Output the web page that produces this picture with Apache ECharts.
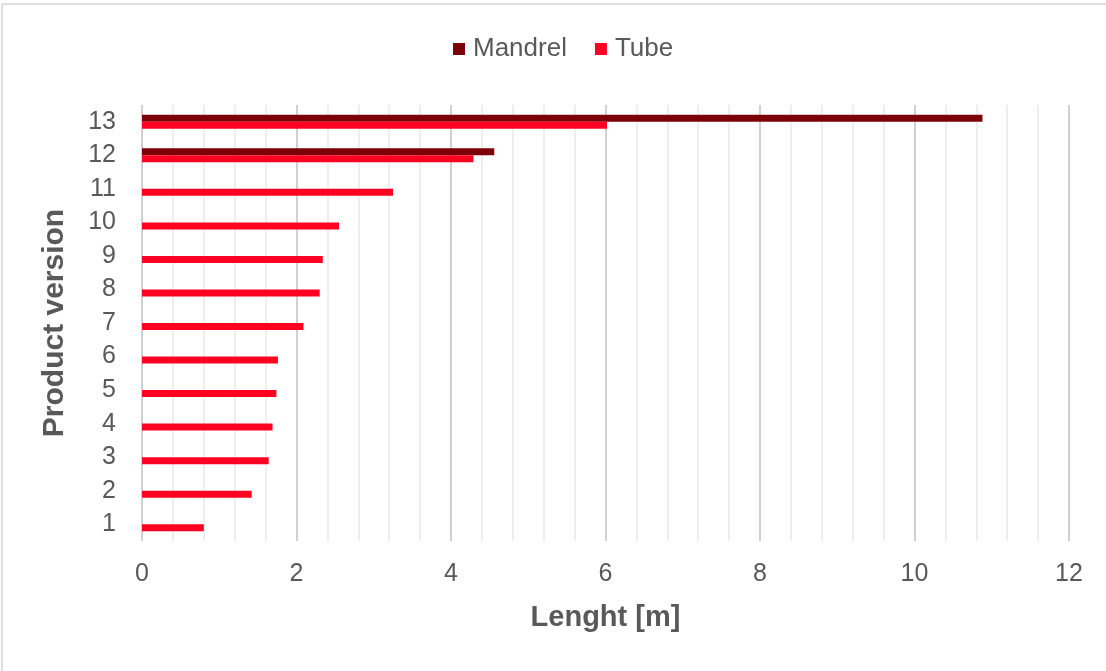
<!DOCTYPE html>
<html>
<head>
<meta charset="utf-8">
<script src="https://cdn.jsdelivr.net/npm/echarts@6/dist/echarts.min.js"></script>
<style>
  html, body { margin: 0; padding: 0; background: #ffffff; }
  #chart { width: 1106px; height: 671px; }
</style>
</head>
<body>
<div id="chart"></div>
<script>
// Product versions along the vertical axis (bottom to top)
const versions = ['1', '2', '3', '4', '5', '6', '7', '8', '9', '10', '11', '12', '13'];
// Mandrel length per version [m]; only versions 12 and 13 have a mandrel
const mandrel = [null, null, null, null, null, null, null, null, null, null, null, 4.56, 10.88];
// Tube length per version [m]
const tube = [0.80, 1.42, 1.64, 1.69, 1.74, 1.76, 2.09, 2.30, 2.34, 2.55, 3.25, 4.29, 6.02];

const textColor = '#595959';
const font = 'Liberation Sans, Arial, sans-serif';

const chart = echarts.init(document.getElementById('chart'), null, { renderer: 'canvas' });

chart.setOption({
  backgroundColor: '#ffffff',
  animation: false,
  textStyle: { fontFamily: font },
  graphic: [
    { type: 'line', shape: { x1: 2, y1: 4, x2: 1106, y2: 4 }, style: { stroke: '#dedede', lineWidth: 2 } },
    { type: 'line', shape: { x1: 2, y1: 4, x2: 2, y2: 671 }, style: { stroke: '#dedede', lineWidth: 2 } }
  ],
  legend: {
    data: ['Mandrel', 'Tube'],
    top: 31,
    left: 448,
    itemWidth: 12,
    itemHeight: 12,
    itemGap: 28,
    icon: 'rect',
    textStyle: { color: textColor, fontSize: 26, fontFamily: font, padding: [0, 0, 0, 3] }
  },
  grid: { left: 142, right: 37, top: 105, bottom: 130, containLabel: false },
  xAxis: {
    type: 'value',
    min: 0,
    max: 12,
    interval: 2,
    name: 'Lenght [m]',
    nameLocation: 'middle',
    nameGap: 62,
    nameTextStyle: { color: textColor, fontSize: 29, fontWeight: 'bold', fontFamily: font },
    axisLine: { show: false },
    axisTick: { show: false },
    axisLabel: { color: textColor, fontSize: 25, margin: 21, fontFamily: font },
    splitLine: { show: true, lineStyle: { color: '#d0d0d0', width: 2 } },
    minorTick: { show: false, splitNumber: 5 },
    minorSplitLine: { show: true, lineStyle: { color: '#eeeeee', width: 2 } }
  },
  yAxis: {
    type: 'category',
    data: versions,
    name: 'Product version',
    nameLocation: 'middle',
    nameGap: 72,
    nameRotate: 90,
    nameTextStyle: { color: textColor, fontSize: 30, fontWeight: 'bold', fontFamily: font },
    axisLine: { show: false },
    axisTick: { show: false },
    axisLabel: { color: textColor, fontSize: 25, margin: 26, fontFamily: font, padding: [3, 0, 0, 0] },
    splitLine: { show: false }
  },
  series: [
    {
      name: 'Mandrel',
      type: 'bar',
      data: mandrel,
      barWidth: 7,
      barGap: '0%',
      itemStyle: { color: '#7b0008' }
    },
    {
      name: 'Tube',
      type: 'bar',
      data: tube,
      barWidth: 7,
      barGap: '0%',
      itemStyle: { color: '#ff0022' }
    }
  ]
});
</script>
</body>
</html>
